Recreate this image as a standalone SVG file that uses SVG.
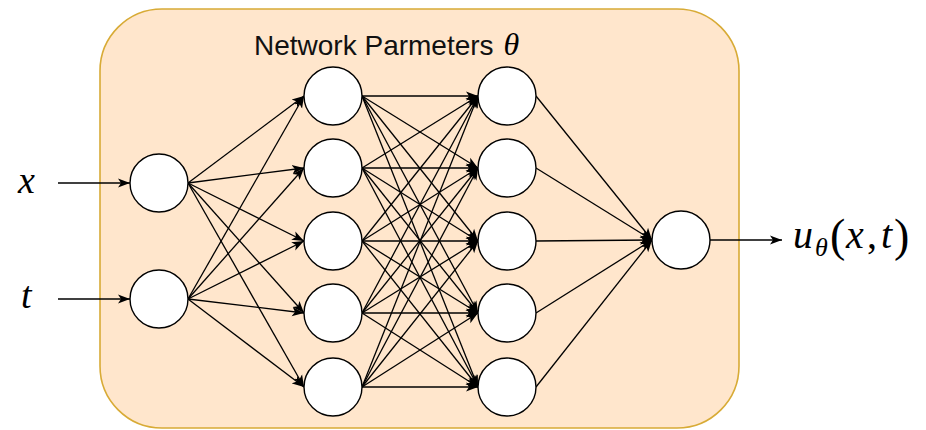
<svg xmlns="http://www.w3.org/2000/svg" width="926" height="430" viewBox="0 0 926 430">
  <style>
    .node { fill: #ffffff; stroke: #000000; stroke-width: 1.4; }
    .edge { fill: none; stroke: #000000; stroke-width: 1.3; marker-end: url(#arrow); }
    .title { font-family: "Liberation Sans", Arial, sans-serif; font-size: 28px; fill: #111111; }
    .math { font-family: "Liberation Serif", "Times New Roman", serif; font-style: italic; fill: #000000; }
    .up { font-style: normal; }
  </style>
  <defs>
    <marker id="arrow" markerUnits="userSpaceOnUse" markerWidth="13" markerHeight="11" viewBox="0 -5.5 13 11" refX="12" refY="0" orient="auto">
      <path d="M0,-4.6 L12,0 L0,4.6 L3,0 Z" fill="#000000"/>
    </marker>
  </defs>

  <g id="container">
    <rect x="100" y="9" width="639" height="419" rx="62" ry="62" fill="#ffe6cc" stroke="#d8ab36" stroke-width="1.6"/>
    <text class="title" x="254" y="55">Network Parmeters <tspan class="math" font-size="32" dx="2">θ</tspan></text>
  </g>

  <g id="connectors">
    <!-- inputs -->
    <path class="edge" d="M58,183 L130,183"/>
    <path class="edge" d="M58,299 L130,299"/>
    <!-- input layer to hidden 1 -->
    <path class="edge" d="M188,183 L304,96"/>
    <path class="edge" d="M188,183 L304,168"/>
    <path class="edge" d="M188,183 L304,241"/>
    <path class="edge" d="M188,183 L304,313"/>
    <path class="edge" d="M188,183 L304,387"/>
    <path class="edge" d="M188,299 L304,96"/>
    <path class="edge" d="M188,299 L304,168"/>
    <path class="edge" d="M188,299 L304,241"/>
    <path class="edge" d="M188,299 L304,313"/>
    <path class="edge" d="M188,299 L304,387"/>
    <!-- hidden 1 to hidden 2 -->
    <path class="edge" d="M362,96 L478,96"/>
    <path class="edge" d="M362,96 L478,168"/>
    <path class="edge" d="M362,96 L478,241"/>
    <path class="edge" d="M362,96 L478,313"/>
    <path class="edge" d="M362,96 L478,387"/>
    <path class="edge" d="M362,168 L478,96"/>
    <path class="edge" d="M362,168 L478,168"/>
    <path class="edge" d="M362,168 L478,241"/>
    <path class="edge" d="M362,168 L478,313"/>
    <path class="edge" d="M362,168 L478,387"/>
    <path class="edge" d="M362,241 L478,96"/>
    <path class="edge" d="M362,241 L478,168"/>
    <path class="edge" d="M362,241 L478,241"/>
    <path class="edge" d="M362,241 L478,313"/>
    <path class="edge" d="M362,241 L478,387"/>
    <path class="edge" d="M362,313 L478,96"/>
    <path class="edge" d="M362,313 L478,168"/>
    <path class="edge" d="M362,313 L478,241"/>
    <path class="edge" d="M362,313 L478,313"/>
    <path class="edge" d="M362,313 L478,387"/>
    <path class="edge" d="M362,387 L478,96"/>
    <path class="edge" d="M362,387 L478,168"/>
    <path class="edge" d="M362,387 L478,241"/>
    <path class="edge" d="M362,387 L478,313"/>
    <path class="edge" d="M362,387 L478,387"/>
    <!-- hidden 2 to output -->
    <path class="edge" d="M536,96 L652,240"/>
    <path class="edge" d="M536,168 L652,240"/>
    <path class="edge" d="M536,241 L652,240"/>
    <path class="edge" d="M536,313 L652,240"/>
    <path class="edge" d="M536,387 L652,240"/>
    <!-- output -->
    <path class="edge" d="M710,240 L782,240"/>
  </g>

  <g id="label-x"><text class="math" x="18" y="193" font-size="38">x</text></g>
  <g id="label-t"><text class="math" x="21" y="308" font-size="38">t</text></g>

  <g id="in-x"><circle class="node" cx="159" cy="183" r="29"/></g>
  <g id="in-t"><circle class="node" cx="159" cy="299" r="29"/></g>

  <g id="h1-1"><circle class="node" cx="333" cy="96" r="29"/></g>
  <g id="h1-2"><circle class="node" cx="333" cy="168" r="29"/></g>
  <g id="h1-3"><circle class="node" cx="333" cy="241" r="29"/></g>
  <g id="h1-4"><circle class="node" cx="333" cy="313" r="29"/></g>
  <g id="h1-5"><circle class="node" cx="333" cy="387" r="29"/></g>

  <g id="h2-1"><circle class="node" cx="507" cy="96" r="29"/></g>
  <g id="h2-2"><circle class="node" cx="507" cy="168" r="29"/></g>
  <g id="h2-3"><circle class="node" cx="507" cy="241" r="29"/></g>
  <g id="h2-4"><circle class="node" cx="507" cy="313" r="29"/></g>
  <g id="h2-5"><circle class="node" cx="507" cy="387" r="29"/></g>

  <g id="out"><circle class="node" cx="681" cy="240" r="29"/></g>

  <g id="label-u">
    <text class="math" y="248" font-size="40"><tspan x="793">u</tspan><tspan x="815" y="256" font-size="26">θ</tspan><tspan class="up" x="830" y="251" font-size="46">(</tspan><tspan x="846" y="248">x</tspan><tspan class="up" x="867">,</tspan><tspan x="881">t</tspan><tspan class="up" x="894" y="251" font-size="46">)</tspan></text>
  </g>
</svg>
